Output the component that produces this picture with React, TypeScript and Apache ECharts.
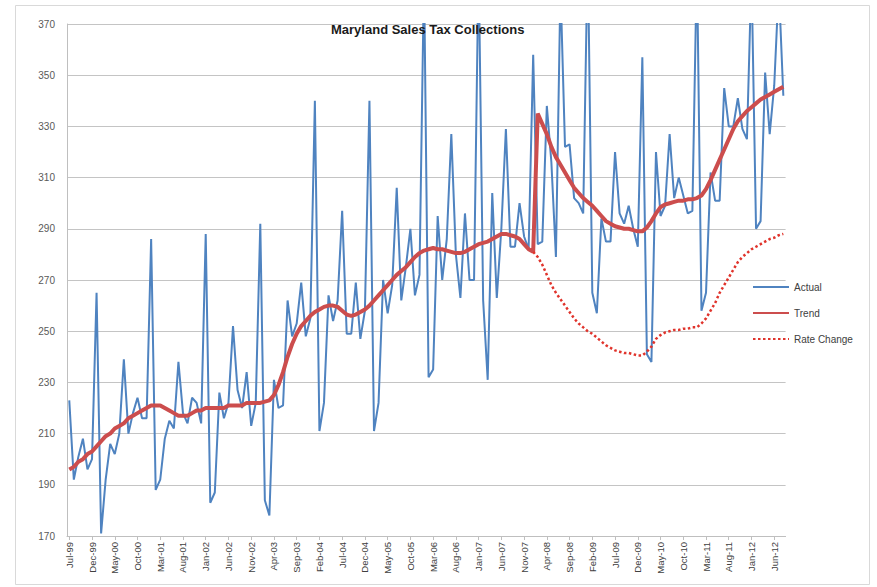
import React, { useEffect, useRef } from "react";
import * as echarts from "echarts";

const MONTHS = ["Jan", "Feb", "Mar", "Apr", "May", "Jun", "Jul", "Aug", "Sep", "Oct", "Nov", "Dec"];
const START_YEAR = 1999;
const START_MONTH = 6; // July
const N_MONTHS = 158; // Jul-99 .. Aug-12

const categories: string[] = [];
for (let i = 0; i < N_MONTHS; i++) {
  const m = (START_MONTH + i) % 12;
  const y = START_YEAR + Math.floor((START_MONTH + i) / 12);
  categories.push(`${MONTHS[m]}-${String(y % 100).padStart(2, "0")}`);
}

// Monthly collections (millions)
const actual = [
  223, 192, 201, 208, 196, 200,
  265, 171, 192, 206, 202, 210, 239, 210, 218, 224, 216, 216,
  286, 188, 192, 208, 215, 212, 238, 218, 214, 224, 222, 214,
  288, 183, 187, 226, 216, 222, 252, 227, 220, 234, 213, 222,
  292, 184, 178, 231, 220, 221, 262, 248, 253, 269, 248, 255,
  340, 211, 222, 264, 254, 262, 297, 249, 249, 269, 247, 258,
  340, 211, 222, 270, 257, 268, 306, 262, 275, 290, 264, 272,
  390, 232, 235, 295, 270, 286, 327, 280, 263, 296, 270, 270,
  395, 262, 231, 304, 263, 290, 329, 283, 283, 300, 287, 282,
  358, 284, 285, 338, 316, 279, 385, 322, 323, 302, 300, 296,
  400, 265, 257, 294, 285, 285, 320, 296, 292, 299, 290, 283,
  357, 241, 238, 320, 295, 299, 327, 302, 310, 303, 296, 297,
  395, 258, 265, 312, 301, 301, 345, 330, 330, 341, 329, 325,
  390, 290, 293, 351, 327, 346, 385, 342,
];

const trend = [
  196, 197, 199, 200, 202, 203,
  205, 207, 209, 210, 212, 213, 214, 216, 217, 218, 219, 220,
  221, 221, 221, 220, 219, 218, 217, 217, 217, 218, 219, 219,
  220, 220, 220, 220, 220, 221, 221, 221, 221, 222, 222, 222,
  222, 222.5, 223, 225, 229, 234, 240, 245, 249, 252, 254, 256,
  257.5, 258.5, 259.5, 260, 260, 259.5, 258, 256.5, 256, 256.5, 257.5, 258.5,
  260, 262, 264, 266, 268, 270, 272, 273.5, 275, 277, 279, 280.5,
  281.5, 282, 282.5, 282, 282, 281.5, 281, 280.5, 280.5, 281, 282, 283,
  284, 284.5, 285, 286, 287, 288, 288, 287.5, 287, 286, 284, 282,
  281, 335, 331, 327, 322, 318, 315, 312, 309, 306, 304, 302,
  300.5, 299, 297, 295, 293, 292, 291, 290.5, 290, 290, 289.5, 289,
  289, 290.5, 293, 296, 298.5, 299.5, 300, 300.5, 301, 301, 301.5, 301.5,
  302, 303, 305.5, 309, 313, 317, 321, 325, 329, 332, 334, 336,
  337.5, 339, 340.5, 341.5, 342.5, 343.5, 344.5, 345.5,
];

const RATE_CHANGE_START = "Jan-08";
const rateChange = [
  281, 279, 276, 272, 268, 265, 262.5, 260, 257.5, 255, 253, 251.5,
  250, 249, 247.5, 246, 244.5, 243.5, 242.5, 242, 241.5, 241.5, 241, 240.5,
  240.5, 242, 244, 247, 248.5, 249.5, 250, 250.5, 250.5, 251, 251, 251.5,
  251.5, 253, 255, 258, 261, 265, 268, 271, 274, 277, 279, 280.5,
  282, 283, 284, 285, 286, 286.5, 287.5, 288,
];

const Y_MIN = 170;
const Y_MAX = 370;
const Y_STEP = 20;

export default function App() {
  const ref = useRef<HTMLDivElement>(null);

  useEffect(() => {
    if (!ref.current) return;
    const chart = echarts.init(ref.current, null, { renderer: "svg" });
    const startIdx = categories.indexOf(RATE_CHANGE_START);
    const rateData = categories.map((_, i) => {
      const k = i - startIdx;
      return k >= 0 && k < rateChange.length ? rateChange[k] : null;
    });

    chart.setOption({
      animation: false,
      backgroundColor: "#ffffff",
      textStyle: { fontFamily: "'Liberation Sans', Arial, sans-serif" },
      title: {
        text: "Maryland Sales Tax Collections",
        left: 331,
        top: 23,
        padding: 0,
        textStyle: { fontSize: 13, fontWeight: "bold", color: "#1a1a1a" },
      },
      graphic: [
        {
          type: "rect",
          shape: { x: 15.5, y: 5.5, width: 854, height: 579 },
          style: { fill: "none", stroke: "#d9d9d9", lineWidth: 1 },
          silent: true,
        },
      ],
      legend: {
        orient: "vertical",
        left: 752,
        top: 282,
        padding: 0,
        itemWidth: 36,
        itemHeight: 10,
        itemGap: 16,
        itemStyle: { opacity: 0 },
        textStyle: { fontSize: 10, color: "#404040" },
        data: ["Actual", "Trend", "Rate Change"],
      },
      grid: { left: 67, top: 24, width: 718.6, height: 512 },
      xAxis: {
        type: "category",
        data: categories,
        boundaryGap: true,
        axisLine: { lineStyle: { color: "#bfbfbf" } },
        axisTick: {
          show: true,
          alignWithLabel: true,
          interval: 4,
          length: 4,
          lineStyle: { color: "#bfbfbf" },
        },
        axisLabel: { interval: 4, rotate: 90, fontSize: 9.5, color: "#404040", margin: 6 },
        splitLine: { show: false },
      },
      yAxis: {
        type: "value",
        min: Y_MIN,
        max: Y_MAX,
        interval: Y_STEP,
        axisLine: { show: true, lineStyle: { color: "#bfbfbf" } },
        axisTick: { show: false },
        axisLabel: { fontSize: 10, color: "#595959", margin: 12 },
        splitLine: { lineStyle: { color: "#c4c4c4", width: 1 } },
      },
      series: [
        {
          name: "Actual",
          type: "line",
          data: actual,
          symbol: "none",
          lineStyle: { color: "#4f83c0", width: 2 },
          itemStyle: { color: "#4f83c0" },
          z: 2,
        },
        {
          name: "Trend",
          type: "line",
          data: trend,
          symbol: "none",
          lineStyle: { color: "#cc4d4d", width: 4 },
          itemStyle: { color: "#cc4d4d" },
          z: 3,
        },
        {
          name: "Rate Change",
          type: "line",
          data: rateData,
          symbol: "none",
          connectNulls: false,
          lineStyle: { color: "#e0332b", width: 2.5, type: [2.5, 2.5] },
          itemStyle: { color: "#e0332b" },
          z: 4,
        },
      ],
    });
    return () => chart.dispose();
  }, []);

  return (
    <div
      ref={ref}
      style={{ position: "absolute", left: 0, top: 0, width: 877, height: 587 }}
    />
  );
}
